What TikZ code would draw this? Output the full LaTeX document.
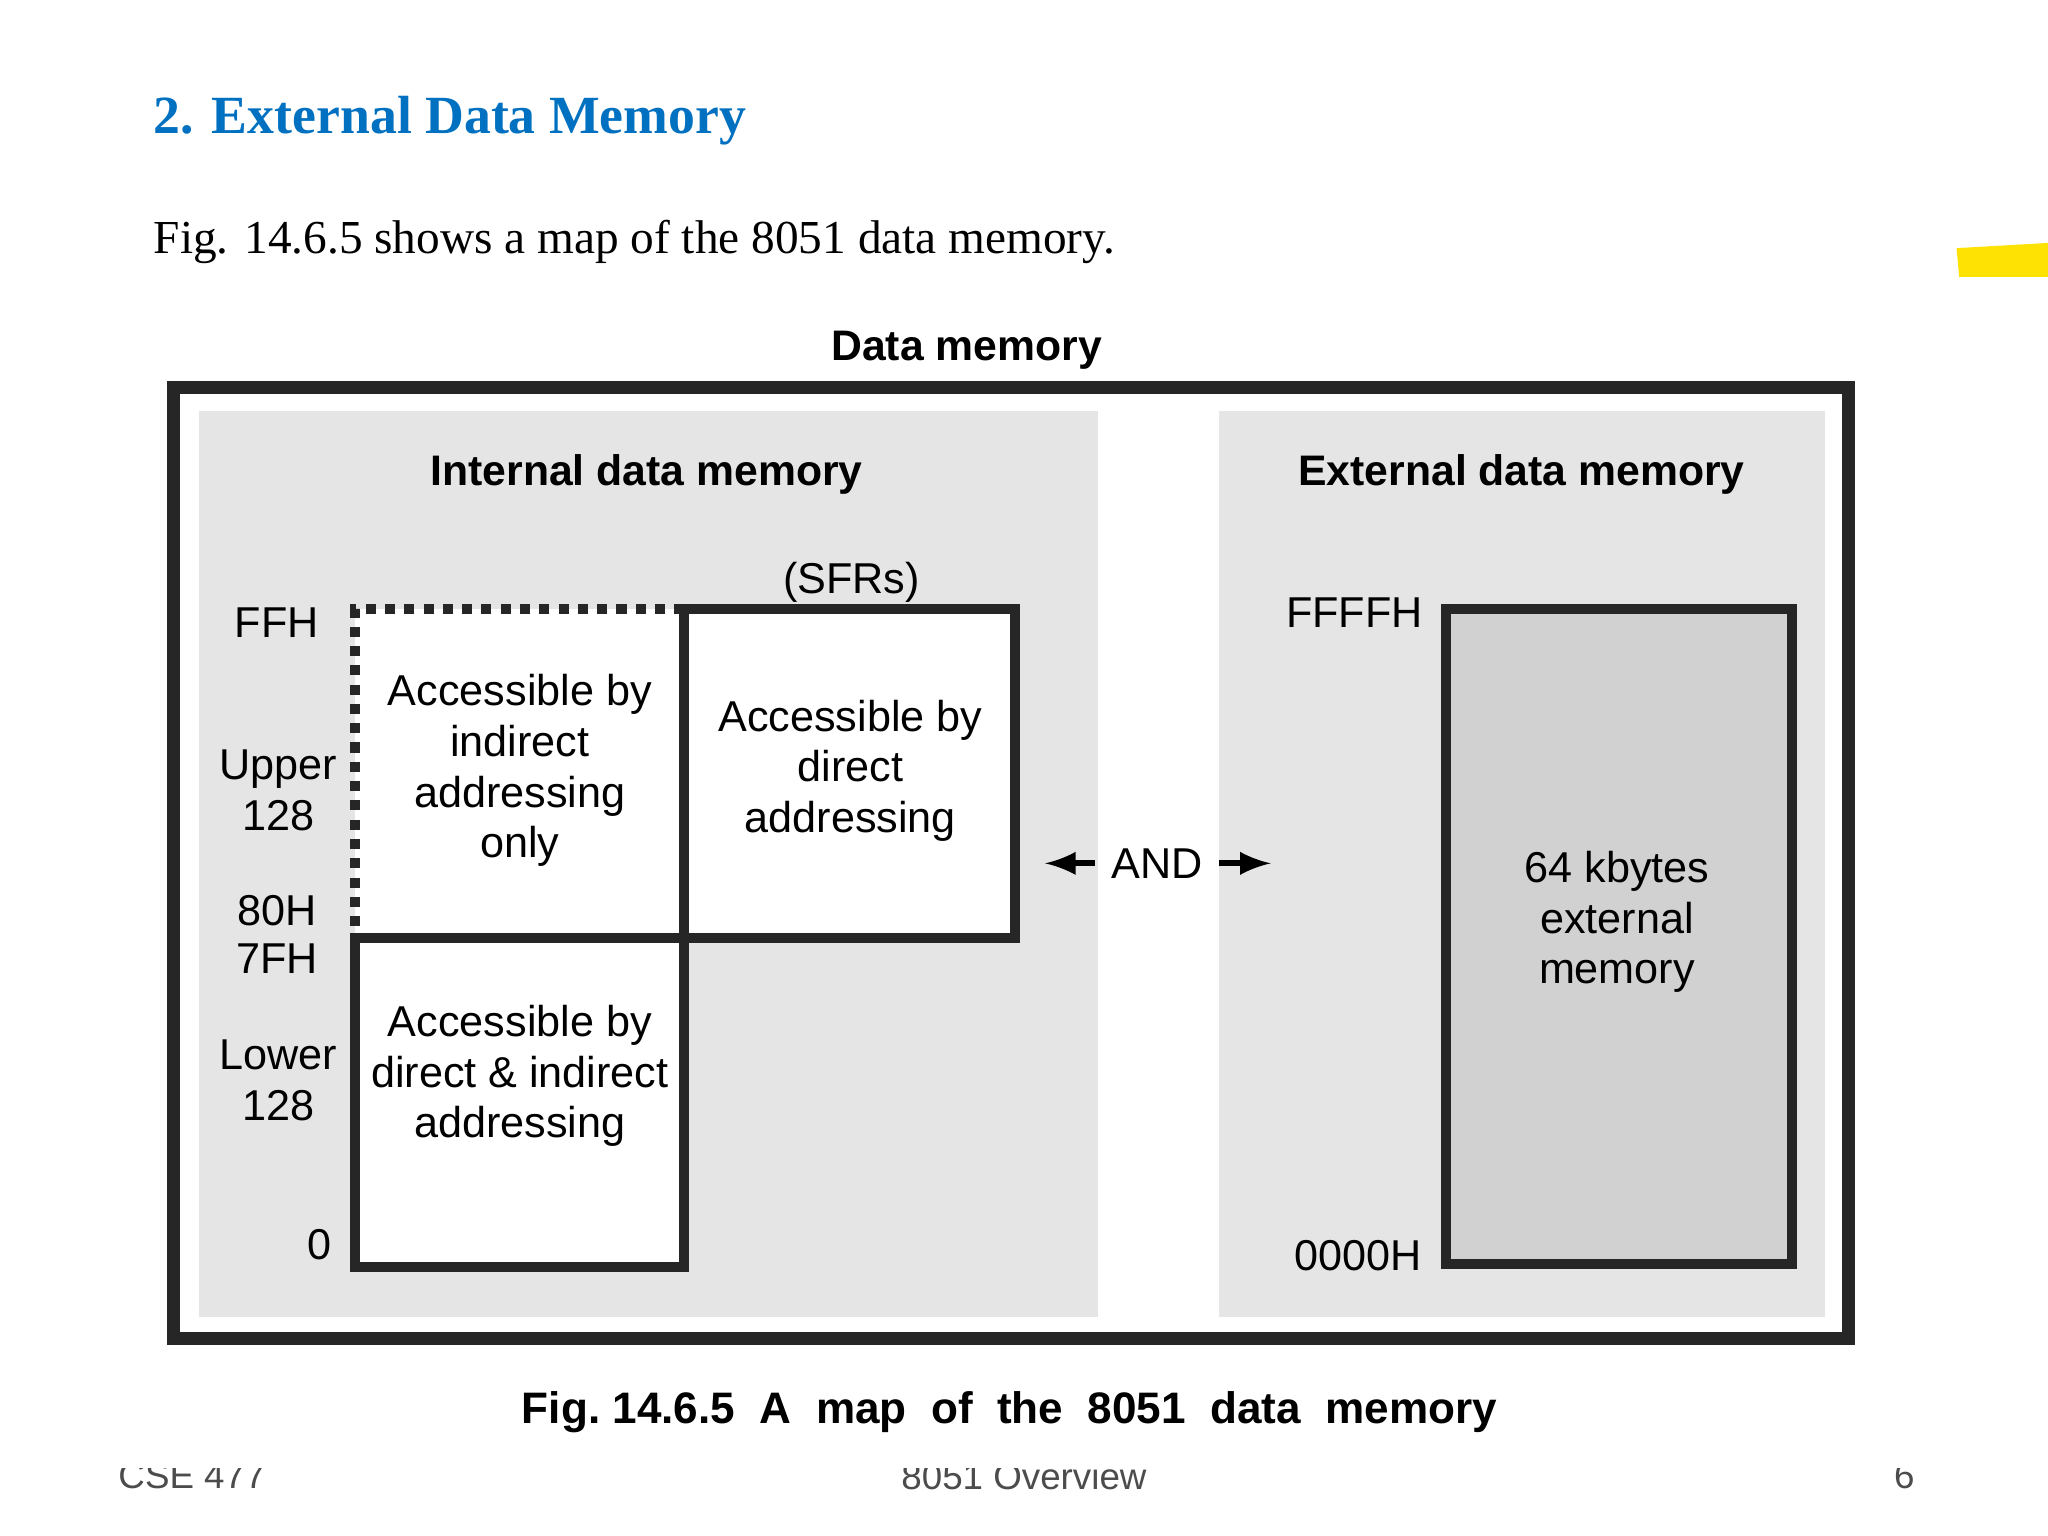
\documentclass[tikz,border=0pt]{standalone}
\usepackage{fontspec}
\setmainfont{Liberation Sans}
\newfontfamily\serf{Liberation Serif}
\begin{document}
\begin{tikzpicture}[x=0.01cm,y=-0.01cm,
  lbl/.style={font=\fontsize{9.4}{11}\selectfont,align=center,inner sep=0},
  hdr/.style={font=\fontsize{9.3}{11}\selectfont\bfseries,inner sep=0},
  box/.style={draw=black!85,line width=2.2pt}]
\useasboundingbox (0,0) rectangle (1568,1176);
\fill[white] (0,0) rectangle (1568,1176);
% footer (partially hidden)
\node[font=\fontsize{8}{9}\selectfont,text=black!70,anchor=west,inner sep=0] (f1) at (90,1130) {CSE 477};
\node[font=\fontsize{8}{9}\selectfont,text=black!70,inner sep=0] (f2) at (784,1130) {8051 Overview};
\node[font=\fontsize{8}{9}\selectfont,text=black!70,inner sep=0] (f3) at (1458,1130) {6};
\fill[white] (0,1100) rectangle (1568,1124);
% header
\node[font=\serf\fontsize{11.7}{14}\selectfont\bfseries,text={rgb,255:red,0;green,112;blue,192},anchor=west,inner sep=0] (t) at (117,92) {2. External Data Memory};
\node[font=\serf\fontsize{10.3}{12}\selectfont,anchor=west,inner sep=0] (s) at (117,185) {Fig. 14.6.5 shows a map of the 8051 data memory.};
\fill[yellow!85!orange] (1498,190) -- (1568,186) -- (1568,212) -- (1500,212) -- cycle;
% diagram
\node[hdr] (dm) at (740,268) {Data memory};
\draw[line width=2.8pt,black!85] (133,297) rectangle (1415,1025);
\fill[black!10] (152,315) rectangle (841,1008);
\fill[black!10] (933,315) rectangle (1397,1008);
\node[hdr] (idm) at (495,363) {Internal data memory};
\node[hdr] (edm) at (1165,363) {External data memory};
\fill[white] (272,466) rectangle (777,718);
\fill[white] (272,718) rectangle (524,970);
\draw[line width=2.2pt,black!85,dotted] (524,466) -- (272,466) -- (272,718);
\draw[box] (524,466) rectangle (777,718);
\draw[box] (272,718) -- (524,718) -- (524,970) -- (272,970) -- cycle;
\node[lbl] (a1) at (398,590) {Accessible by\\indirect\\addressing\\only};
\node[lbl] (a2) at (651,590) {Accessible by\\direct\\addressing};
\node[lbl] (a3) at (398,824) {Accessible by\\direct \& indirect\\addressing};
\node[lbl] (sfr) at (652,446) {(SFRs)};
\node[lbl] (ffh) at (212,477) {FFH};
\node[lbl] (up) at (213,605) {Upper\\128};
\node[lbl] (h80) at (212,697) {80H};
\node[lbl] (h7f) at (212,734) {7FH};
\node[lbl] (lo) at (213,827) {Lower\\128};
\node[lbl] (z) at (245,953) {0};
\node[lbl] (and) at (886,661) {AND};
\coordinate (la) at (800,661);
\coordinate (ra) at (973,661);
\draw[-latex,line width=1.3pt] (and.west) ++(-12,0) -- (la);
\draw[-latex,line width=1.3pt] (and.east) ++(12,0) -- (ra);
\draw[box,fill=black!18] (1107,466) rectangle (1372,968);
\node[lbl] (ext) at (1238,706) {64 kbytes\\external\\memory};
\node[lbl] (ff) at (1037,469) {FFFFH};
\node[lbl] (oo) at (1040,961) {0000H};
\node[font=\fontsize{9.6}{11}\selectfont\bfseries,inner sep=0] (cap) at (773,1081) {Fig.\ 14.6.5\ \ A\ \ map\ \ of\ \ the\ \ 8051\ \ data\ \ memory};
\end{tikzpicture}
\end{document}
